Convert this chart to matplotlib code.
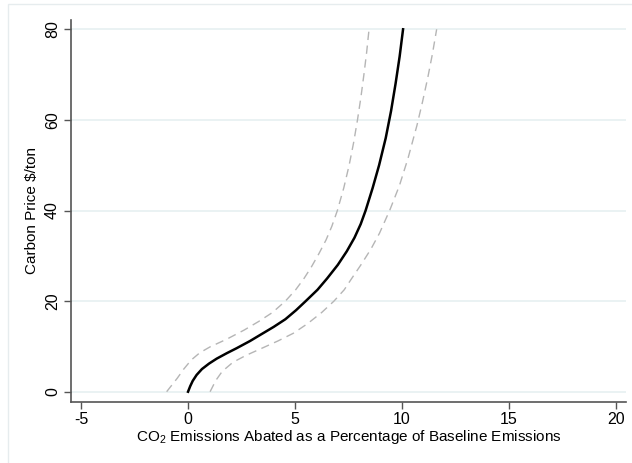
import matplotlib
matplotlib.use('Agg')
import matplotlib.pyplot as plt
from matplotlib.patches import Rectangle

plt.rcParams['font.family'] = ['Liberation Sans', 'DejaVu Sans']
plt.rcParams['mathtext.fontset'] = 'custom'
plt.rcParams['mathtext.rm'] = 'Liberation Sans'
plt.rcParams['axes.unicode_minus'] = False

# fitted curve
fit_x = [0, 0.1, 0.22, 0.4, 0.65, 0.98, 1.34, 1.81, 2.27, 2.9, 3.36, 4.0, 4.55,
         5.05, 5.5, 6.05, 6.5, 7.0, 7.42, 7.78, 8.07, 8.3, 8.63, 8.93, 9.24,
         9.49, 9.7, 9.89, 10.05]
fit_y = [0, 1.2, 2.4, 3.7, 5.0, 6.2, 7.3, 8.5, 9.6, 11.2, 12.5, 14.3, 16,
         18, 20, 22.5, 25, 28, 31, 34, 37, 40, 45, 50, 56,
         62, 68, 74, 80]

# lower / upper confidence bands
lo_x = [-1.0, -0.75, -0.5, -0.2, 0.15, 0.55, 1.03, 1.81, 2.62, 3.3, 3.95, 4.55,
        5.03, 5.42, 5.76, 6.12, 6.45, 6.72, 6.98, 7.28, 7.53, 7.74, 7.92, 8.08,
        8.22, 8.35, 8.46]
lo_y = [0, 1.5, 3, 5, 7, 8.6, 9.9, 11.6, 13.6, 15.5, 17.5, 20,
        22.5, 25, 27.5, 30.5, 33.5, 36.5, 40, 45, 50, 55, 60, 65,
        70, 75, 80]
hi_x = [1.03, 1.3, 1.6, 2.1, 2.7, 3.36, 4.2, 4.92, 5.58, 6.25, 6.82, 7.3, 7.65,
        8.08, 8.55, 8.95, 9.44, 9.88, 10.28, 10.7, 10.96, 11.2, 11.42, 11.62]
hi_y = [0, 2.5, 4.5, 6.5, 8.0, 9.4, 11.2, 12.9, 15, 17.5, 20, 22.5, 25,
        28, 31.5, 35, 40.2, 45.5, 51.5, 58.8, 64, 69.2, 74.5, 80]

x_ticks = [-5, 0, 5, 10, 15, 20]
y_ticks = [0, 20, 40, 60, 80]

fig = plt.figure(figsize=(6.32, 4.63), dpi=100)
fig.patches.append(Rectangle((8 / 632, -0.1), 1.2, 1 - 4 / 463 + 0.1,
                             transform=fig.transFigure, fill=False,
                             edgecolor='#e6ecee', linewidth=1))
ax = fig.add_axes([71 / 632, 1 - 402 / 463, 555 / 632, 382 / 463])

for yt in y_ticks:
    ax.axhline(yt, color='#eaf2f3', linewidth=1.4, zorder=0)

band = dict(color='#b5b5b5', linewidth=1.0, linestyle=(0, (6, 4)))
ax.plot(lo_x, lo_y, **band)
ax.plot(hi_x, hi_y, **band)
ax.plot(fit_x, fit_y, color='black', linewidth=1.8, solid_joinstyle='round')

ax.set_xlim(-5.47, 20.47)
ax.set_ylim(-2.27, 82.05)
ax.set_xticks(x_ticks)
ax.set_yticks(y_ticks)
ax.set_yticklabels([str(v) for v in y_ticks], rotation=90, va='center')

for s in ['top', 'right']:
    ax.spines[s].set_visible(False)
for s in ['left', 'bottom']:
    ax.spines[s].set_color('#555555')
    ax.spines[s].set_linewidth(1.2)
ax.tick_params(axis='both', colors='#555555', labelcolor='black',
               length=5, width=1, labelsize=11.5)
ax.tick_params(axis='y', pad=3)
ax.tick_params(axis='x', pad=2)

ax.set_xlabel('CO$_\\mathregular{2}$ Emissions Abated as a Percentage of Baseline Emissions',
              fontsize=11, labelpad=1)
ax.set_ylabel('Carbon Price $/ton', fontsize=11, labelpad=4)

fig.savefig('out.png', dpi=100)
